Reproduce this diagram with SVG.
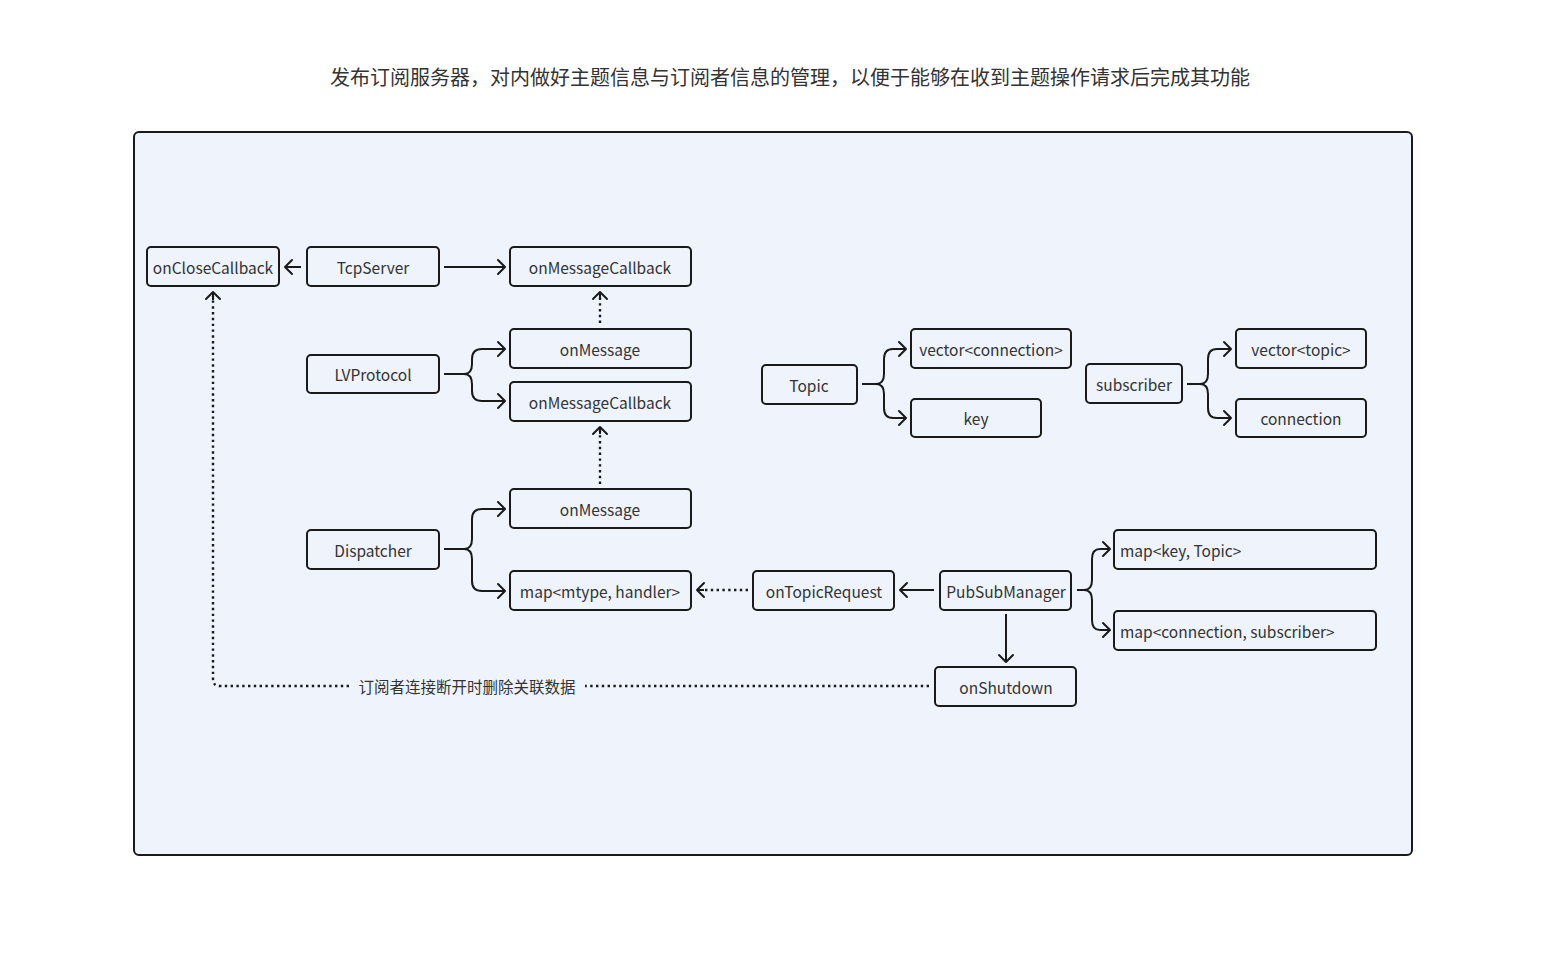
<svg xmlns="http://www.w3.org/2000/svg" width="1555" height="959" viewBox="0 0 1555 959">
<style>
.t{font-family:"Noto Sans CJK SC","Noto Sans",sans-serif;fill:#333;font-size:15.5px;dominant-baseline:central}
.c{text-anchor:middle}
.b{fill:#eef3fc;stroke:#1a1a1a;stroke-width:2}
.l{fill:none;stroke:#1a1a1a;stroke-width:2}
.d{fill:none;stroke:#1a1a1a;stroke-width:2.4;stroke-dasharray:2.4 3.4}
</style>
<defs>
<marker id="a" markerUnits="userSpaceOnUse" viewBox="-10 -10 20 20" markerWidth="20" markerHeight="20" refX="0" refY="0" orient="auto">
<path d="M-7,-7 L0,0 L-7,7" fill="none" stroke="#1a1a1a" stroke-width="2" stroke-linecap="round" stroke-linejoin="round"/>
</marker>
</defs>
<rect width="1555" height="959" fill="#ffffff"/>
<text class="t c" x="790" y="76" style="font-size:20px">发布订阅服务器，对内做好主题信息与订阅者信息的管理，以便于能够在收到主题操作请求后完成其功能</text>
<rect id="container" x="134" y="132" width="1278" height="723" rx="5" fill="#eef3fc" stroke="#1a1a1a" stroke-width="2"/>

<g id="connectors">
<path class="l" d="M301 267 H285" marker-end="url(#a)"/>
<path class="l" d="M444 267 H505" marker-end="url(#a)"/>
<path class="d" d="M600 323 V296"/>
<path class="l" d="M600 300 V292" marker-end="url(#a)"/>
<path class="d" d="M600 484 V430"/>
<path class="l" d="M600 434 V427" marker-end="url(#a)"/>
<path class="l" d="M444 374 H464 Q472 374 472 364 V359 Q472 349 482 349 H505" marker-end="url(#a)"/>
<path class="l" d="M464 374 Q472 374 472 384 V391 Q472 401 482 401 H505" marker-end="url(#a)"/>
<path class="l" d="M444 549 H464 Q472 549 472 539 V519 Q472 509 482 509 H505" marker-end="url(#a)"/>
<path class="l" d="M464 549 Q472 549 472 559 V581 Q472 591 482 591 H505" marker-end="url(#a)"/>
<path class="d" d="M748 590 H702"/>
<path class="l" d="M704 590 H697" marker-end="url(#a)"/>
<path class="l" d="M934 590 H900" marker-end="url(#a)"/>
<path class="l" d="M1006 614 V662" marker-end="url(#a)"/>
<path class="l" d="M1077 590 H1084 Q1092 590 1092 580 V559 Q1092 549 1100 549 H1110" marker-end="url(#a)"/>
<path class="l" d="M1084 590 Q1092 590 1092 600 V620 Q1092 630 1100 630 H1110" marker-end="url(#a)"/>
<path class="l" d="M862 384 H876 Q884 384 884 374 V359 Q884 349 893 349 H906" marker-end="url(#a)"/>
<path class="l" d="M876 384 Q884 384 884 394 V408 Q884 418 893 418 H906" marker-end="url(#a)"/>
<path class="l" d="M1187 384 H1200 Q1208 384 1208 374 V359 Q1208 349 1217 349 H1231" marker-end="url(#a)"/>
<path class="l" d="M1200 384 Q1208 384 1208 394 V408 Q1208 418 1217 418 H1231" marker-end="url(#a)"/>
<path class="d" d="M929 686 H220 Q213 686 213 679 V296"/>
<path class="l" d="M213 300 V292" marker-end="url(#a)"/>
<rect x="351" y="674" width="234" height="26" fill="#eef3fc"/>
<text class="t c" x="467" y="686" style="font-size:15.5px">订阅者连接断开时删除关联数据</text>
</g>

<g id="onCloseCallback"><rect class="b" x="147" y="247" width="132" height="39" rx="4"/><text class="t c" x="213" y="266.5">onCloseCallback</text></g>
<g id="TcpServer"><rect class="b" x="307" y="247" width="132" height="39" rx="4"/><text class="t c" x="373" y="266.5">TcpServer</text></g>
<g id="onMessageCallback1"><rect class="b" x="510" y="247" width="181" height="39" rx="4"/><text class="t c" x="600" y="266.5">onMessageCallback</text></g>
<g id="onMessage1"><rect class="b" x="510" y="329" width="181" height="39" rx="4"/><text class="t c" x="600" y="348.5">onMessage</text></g>
<g id="LVProtocol"><rect class="b" x="307" y="355" width="132" height="38" rx="4"/><text class="t c" x="373" y="373.5">LVProtocol</text></g>
<g id="onMessageCallback2"><rect class="b" x="510" y="382" width="181" height="39" rx="4"/><text class="t c" x="600" y="401.5">onMessageCallback</text></g>
<g id="onMessage2"><rect class="b" x="510" y="489" width="181" height="39" rx="4"/><text class="t c" x="600" y="508.5">onMessage</text></g>
<g id="Dispatcher"><rect class="b" x="307" y="530" width="132" height="39" rx="4"/><text class="t c" x="373" y="549.5">Dispatcher</text></g>
<g id="mapMtypeHandler"><rect class="b" x="510" y="571" width="181" height="39" rx="4"/><text class="t c" x="600" y="590.5">map&lt;mtype, handler&gt;</text></g>
<g id="onTopicRequest"><rect class="b" x="753" y="571" width="141" height="39" rx="4"/><text class="t c" x="824" y="590.5">onTopicRequest</text></g>
<g id="PubSubManager"><rect class="b" x="940" y="571" width="131" height="39" rx="4"/><text class="t c" x="1006" y="590.5">PubSubManager</text></g>
<g id="onShutdown"><rect class="b" x="935" y="667" width="141" height="39" rx="4"/><text class="t c" x="1006" y="686.5">onShutdown</text></g>
<g id="mapKeyTopic"><rect class="b" x="1114" y="530" width="262" height="39" rx="4"/><text class="t" x="1120" y="549.5">map&lt;key, Topic&gt;</text></g>
<g id="mapConnectionSubscriber"><rect class="b" x="1114" y="611" width="262" height="39" rx="4"/><text class="t" x="1120" y="630.5">map&lt;connection, subscriber&gt;</text></g>
<g id="Topic"><rect class="b" x="762" y="365" width="95" height="39" rx="4"/><text class="t c" x="809" y="384.5">Topic</text></g>
<g id="vectorConnection"><rect class="b" x="911" y="329" width="160" height="39" rx="4"/><text class="t c" x="991" y="348.5">vector&lt;connection&gt;</text></g>
<g id="key"><rect class="b" x="911" y="399" width="130" height="38" rx="4"/><text class="t c" x="976" y="417.5">key</text></g>
<g id="subscriber"><rect class="b" x="1086" y="364" width="96" height="39" rx="4"/><text class="t c" x="1134" y="383.5">subscriber</text></g>
<g id="vectorTopic"><rect class="b" x="1236" y="329" width="130" height="39" rx="4"/><text class="t c" x="1301" y="348.5">vector&lt;topic&gt;</text></g>
<g id="connection"><rect class="b" x="1236" y="399" width="130" height="38" rx="4"/><text class="t c" x="1301" y="417.5">connection</text></g>
</svg>
